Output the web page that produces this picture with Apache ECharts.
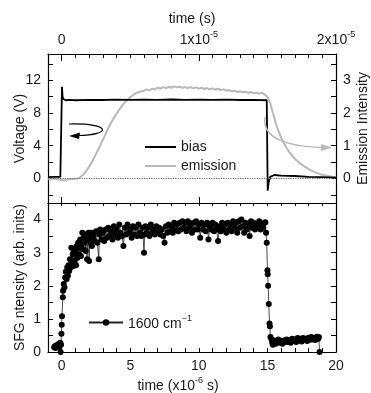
<!DOCTYPE html>
<html>
<head>
<meta charset="utf-8">
<script src="https://cdn.jsdelivr.net/npm/echarts@6/dist/echarts.min.js"></script>
<style>
  html, body { margin: 0; padding: 0; background: #fff; }
  #chart { width: 371px; height: 393px; }
</style>
</head>
<body>
<div id="chart"></div>
<script>
// ---- data (time in microseconds) ----
const biasData = [
  [-1, 0.15], [-0.5, 0.2], [-0.1, 0.2], [0, 0.2], [0.02, 11.2], [0.06, 10.0], [0.12, 9.7],
  [0.3, 9.55], [0.6, 9.6], [1, 9.55], [2, 9.6], [3, 9.58], [4, 9.62], [5, 9.6], [6, 9.63],
  [7, 9.6], [8, 9.64], [9, 9.6], [10, 9.62], [11, 9.6], [12, 9.62], [13, 9.58], [14, 9.6],
  [14.95, 9.55], [15.0, 9.5], [15.02, -1.5], [15.08, -0.6], [15.2, 0.2], [15.5, 0.42],
  [16, 0.35], [17, 0.3], [18, 0.2], [19, 0.15], [20, 0.1]
];
const emissionData = [
  [-1, -0.02], [-0.5, 0.0], [-0.2, -0.03], [0, -0.04], [0.2, -0.06], [0.4, -0.03], [0.7, -0.02],
  [1.0, -0.01], [1.2, 0.0], [1.4, 0.05], [1.6, 0.13], [1.8, 0.24], [2.0, 0.36], [2.2, 0.5],
  [2.4, 0.66], [2.6, 0.83], [2.8, 1.0], [3.0, 1.18], [3.2, 1.36], [3.4, 1.54], [3.6, 1.7],
  [3.8, 1.85], [4.0, 1.98], [4.2, 2.1], [4.4, 2.22], [4.6, 2.32], [4.8, 2.4], [5.0, 2.48],
  [5.2, 2.55], [5.4, 2.6], [5.6, 2.63], [5.8, 2.66], [6.0, 2.68], [6.2, 2.72], [6.4, 2.69],
  [6.6, 2.74], [6.8, 2.72], [7.0, 2.77], [7.2, 2.74], [7.4, 2.79], [7.6, 2.76], [7.8, 2.8],
  [8.0, 2.77], [8.2, 2.81], [8.4, 2.78], [8.6, 2.8], [8.8, 2.77], [9.0, 2.79], [9.2, 2.76],
  [9.4, 2.79], [9.6, 2.75], [9.8, 2.78], [10.0, 2.74], [10.2, 2.77], [10.4, 2.73], [10.6, 2.76],
  [10.8, 2.72], [11.0, 2.75], [11.2, 2.71], [11.4, 2.74], [11.6, 2.7], [11.8, 2.72], [12.0, 2.68],
  [12.2, 2.7], [12.4, 2.66], [12.6, 2.68], [12.8, 2.64], [13.0, 2.66], [13.2, 2.63], [13.4, 2.65],
  [13.6, 2.61], [13.8, 2.64], [14.0, 2.6], [14.2, 2.62], [14.4, 2.58], [14.6, 2.62], [14.8, 2.56],
  [15.0, 2.5], [15.1, 2.4], [15.2, 2.3], [15.4, 2.0], [15.6, 1.7], [15.8, 1.45], [16.0, 1.25],
  [16.3, 1.0], [16.6, 0.8], [17.0, 0.6], [17.4, 0.45], [17.8, 0.34], [18.2, 0.24], [18.6, 0.17],
  [19.0, 0.11], [19.5, 0.07], [20, 0.04]
];
const sfgData = [
  [-0.55,0.14],[-0.5,0.17],[-0.45,0.12],[-0.4,0.2],[-0.35,0.16],[-0.3,0.22],[-0.25,0.15],[-0.2,0.25],
  [-0.15,0.18],[-0.1,0.28],[-0.08,0.0],[-0.05,0.22],[-0.02,0.55],[0.0,0.82],[0.02,1.08],[0.08,1.65],
  [0.1,1.85],[0.15,2.05],[0.2,1.95],[0.25,2.25],[0.3,2.42],[0.35,2.2],[0.4,2.55],[0.45,2.3],
  [0.5,2.62],[0.55,2.45],[0.6,2.8],[0.65,2.55],[0.7,3.15],[0.75,2.7],[0.8,2.95],[0.85,2.6],
  [0.9,3.1],[0.95,2.75],[1.0,3.05],[1.05,2.62],[1.1,3.2],[1.15,2.85],[1.2,3.3],[1.25,2.95],
  [1.3,3.15],[1.35,3.4],[1.4,2.9],[1.45,3.25],[1.5,3.6],[1.55,3.1],[1.6,3.45],[1.65,3.3],
  [1.7,3.55],[1.75,3.05],[1.8,3.5],[1.85,2.8],[1.9,3.4],[1.95,3.6],[2.0,2.75],[2.05,3.45],
  [2.1,3.3],[2.15,3.6],[2.2,3.2],[2.3,3.5],[2.4,3.35],[2.5,3.65],[2.6,3.3],[2.7,2.8],
  [2.75,3.55],[2.8,3.7],[2.9,3.4],[3.0,3.6],[3.1,3.35],[3.2,3.7],[3.3,3.45],[3.4,3.75],
  [3.5,3.5],[3.6,3.65],[3.7,3.4],[3.8,3.8],[3.9,3.55],[4.0,3.7],[4.1,3.45],[4.2,3.85],
  [4.3,3.6],[4.4,3.5],[4.5,3.2],[4.6,3.75],[4.7,3.55],[4.8,3.85],[4.9,3.6],[5.0,3.7],
  [5.1,3.45],[5.2,3.8],[5.3,3.55],[5.4,3.75],[5.5,3.5],[5.6,3.85],[5.7,3.6],[5.8,3.5],
  [5.9,3.75],[6.0,3.0],[6.05,3.55],[6.1,3.8],[6.2,3.6],[6.3,3.75],[6.4,3.5],[6.5,3.85],
  [6.6,3.6],[6.7,3.7],[6.8,3.55],[6.9,3.8],[7.0,3.6],[7.1,3.75],[7.2,3.55],[7.3,3.7],
  [7.4,3.5],[7.5,3.3],[7.6,3.8],[7.7,3.6],[7.8,3.85],[7.9,3.65],[8.0,3.8],[8.1,3.6],
  [8.2,3.9],[8.3,3.7],[8.4,3.85],[8.5,3.65],[8.6,3.9],[8.7,3.7],[8.8,3.95],[8.9,3.75],
  [9.0,3.9],[9.1,3.65],[9.2,3.95],[9.3,3.75],[9.4,3.85],[9.5,3.6],[9.6,3.9],[9.7,3.7],
  [9.8,3.95],[9.9,3.7],[10.0,3.85],[10.1,3.45],[10.2,3.9],[10.3,3.7],[10.4,3.85],[10.5,3.65],
  [10.6,3.9],[10.7,3.4],[10.8,3.8],[10.9,3.7],[11.0,3.9],[11.1,3.65],[11.2,3.85],[11.3,3.7],
  [11.4,3.35],[11.5,3.8],[11.6,3.65],[11.7,3.9],[11.8,3.7],[11.9,3.85],[12.0,3.6],[12.1,3.9],
  [12.2,3.7],[12.3,3.85],[12.4,3.65],[12.5,3.95],[12.6,3.75],[12.7,3.9],[12.8,3.6],[12.9,3.95],
  [13.0,3.75],[13.1,4.0],[13.2,3.8],[13.3,3.6],[13.4,3.9],[13.5,3.7],[13.6,3.85],[13.7,3.5],
  [13.8,3.95],[13.9,3.75],[14.0,3.9],[14.1,3.7],[14.2,3.85],[14.3,3.75],[14.4,3.95],[14.5,3.7],
  [14.6,3.85],[14.7,3.75],[14.8,3.9],[14.85,3.92],[14.9,3.6],[14.95,3.3],[15.0,2.47],[15.02,2.35],
  [15.05,2.0],[15.1,1.45],[15.15,0.86],[15.18,0.78],[15.22,0.45],[15.3,0.38],[15.35,0.28],[15.4,0.22],
  [15.5,0.35],[15.6,0.25],[15.7,0.3],[15.8,0.38],[15.9,0.28],[16.0,0.33],[16.1,0.25],[16.2,0.35],
  [16.3,0.3],[16.4,0.38],[16.5,0.3],[16.6,0.35],[16.7,0.28],[16.8,0.4],[16.9,0.33],[17.0,0.38],
  [17.1,0.3],[17.2,0.42],[17.3,0.35],[17.4,0.4],[17.5,0.32],[17.6,0.42],[17.7,0.36],[17.8,0.4],
  [17.9,0.33],[18.0,0.43],[18.1,0.37],[18.2,0.45],[18.3,0.38],[18.4,0.42],[18.5,0.36],[18.6,0.46],
  [18.7,0.4],[18.75,0.45],[18.8,0.0]
];
const topTickLabels = { 0: '{b|0}', 10: '{b|1x10}{sup|-5}', 20: '{b|2x10}{sup|-5}' };
const bottomTickLabels = [0, 5, 10, 15, 20];
const voltageLabels = [0, 4, 8, 12];
const emissionLabels = [0, 1, 2, 3];
const sfgLabels = [0, 1, 2, 3, 4];

// ---- styling ----
const TXT = '#1a1a1a';
const FONT = '"Liberation Sans", Arial, sans-serif';
const RICH = {
  b: { fontSize: 14, fontFamily: FONT, color: TXT, lineHeight: 17, verticalAlign: 'bottom' },
  sup: { fontSize: 9, fontFamily: FONT, color: TXT, lineHeight: 10, verticalAlign: 'top' }
};
const axisLine = { show: true, onZero: false, lineStyle: { color: '#000', width: 1.2 } };
function ticks(len) { return { show: true, inside: true, length: len, lineStyle: { color: '#000', width: 1 } }; }
const noLabel = { show: false };
function lbl(fmt) { return { show: true, color: TXT, fontSize: 14, fontFamily: FONT, margin: 7, formatter: fmt, rich: RICH, showMinLabel: true, showMaxLabel: true }; }
const nameStyle = { color: TXT, fontSize: 14, fontFamily: FONT, rich: RICH };
const isIn = (arr, v) => arr.some(a => Math.abs(a - v) < 1e-9);

const chart = echarts.init(document.getElementById('chart'), null, { renderer: 'canvas' });
chart.setOption({
  animation: false,
  backgroundColor: '#fff',
  grid: [
    { left: 48, right: 35, top: 54, height: 149, containLabel: false, outerBoundsMode: 'none' },
    { left: 48, right: 35, top: 203, height: 149, containLabel: false, outerBoundsMode: 'none' }
  ],
  xAxis: [
    { // 0: top panel bottom (data axis)
      gridIndex: 0, type: 'value', position: 'bottom', min: -1, max: 20, minInterval: 10, maxInterval: 10,
      axisLine: axisLine, axisTick: ticks(6), axisLabel: noLabel, splitLine: { show: false }
    },
    { // 1: top panel top, minor ticks + labels
      gridIndex: 0, type: 'value', position: 'top', min: -1, max: 20, interval: 1,
      axisLine: axisLine, axisTick: ticks(4), splitLine: { show: false },
      axisLabel: lbl(v => (topTickLabels[Math.round(v)] !== undefined && Math.abs(v - Math.round(v)) < 1e-9) ? topTickLabels[Math.round(v)] : ''),
      name: 'time (s)', nameLocation: 'middle', nameGap: 28, nameMoveOverlap: false, nameTextStyle: nameStyle
    },
    { // 2: top panel top, major ticks
      gridIndex: 0, type: 'value', position: 'top', min: -1, max: 20, minInterval: 10, maxInterval: 10,
      axisLine: { show: false, onZero: false }, axisTick: ticks(7), axisLabel: noLabel, splitLine: { show: false }
    },
    { // 3: bottom panel bottom
      gridIndex: 1, type: 'value', position: 'bottom', min: -1, max: 20, interval: 1,
      axisLine: axisLine, axisTick: ticks(4), splitLine: { show: false },
      axisLabel: lbl(v => isIn(bottomTickLabels, v) ? String(Math.round(v)) : ''),
      name: '{b|time (x10}{sup|-6}{b| s)}', nameLocation: 'middle', nameGap: 24, nameMoveOverlap: false,
      nameTextStyle: Object.assign({}, nameStyle, { padding: [0, 28, 0, 0] })
    },
    { // 4: bottom panel top
      gridIndex: 1, type: 'value', position: 'top', min: -1, max: 20, interval: 1,
      axisLine: axisLine, axisTick: ticks(3), axisLabel: noLabel, splitLine: { show: false }
    }
  ],
  yAxis: [
    { // 0: voltage
      gridIndex: 0, type: 'value', position: 'left', min: -3, max: 15.2, minInterval: 2, maxInterval: 2,
      axisLine: axisLine, axisTick: ticks(5), splitLine: { show: false },
      axisLabel: lbl(v => isIn(voltageLabels, v) ? String(Math.round(v)) : ''),
      name: 'Voltage (V)', nameLocation: 'middle', nameGap: 21, nameRotate: 90, nameMoveOverlap: false, nameTextStyle: nameStyle
    },
    { // 1: emission
      gridIndex: 0, type: 'value', position: 'right', min: -0.75, max: 3.8, minInterval: 0.5, maxInterval: 0.5,
      axisLine: axisLine, axisTick: ticks(5), splitLine: { show: false },
      axisLabel: lbl(v => isIn(emissionLabels, v) ? String(Math.round(v)) : ''),
      name: 'Emission Intensity', nameLocation: 'middle', nameGap: 20, nameRotate: 90, nameMoveOverlap: false, nameTextStyle: nameStyle
    },
    { // 2: SFG
      gridIndex: 1, type: 'value', position: 'left', min: 0, max: 4.5, interval: 0.5,
      axisLine: axisLine, axisTick: ticks(5), splitLine: { show: false },
      axisLabel: lbl(v => isIn(sfgLabels, v) ? String(Math.round(v)) : ''),
      name: 'SFG ntensity (arb. inits)', nameLocation: 'middle', nameGap: 21, nameRotate: 90, nameMoveOverlap: false, nameTextStyle: nameStyle
    },
    { // 3: SFG right frame
      gridIndex: 1, type: 'value', position: 'right', min: 0, max: 4.5, interval: 0.5,
      axisLine: axisLine, axisTick: ticks(5), axisLabel: noLabel, splitLine: { show: false }
    }
  ],
  legend: [
    {
      data: [{ name: 'bias', icon: 'rect' }, { name: 'emission', icon: 'rect' }],
      orient: 'vertical', left: 145, top: 140, padding: 0,
      itemWidth: 31, itemHeight: 2, itemGap: 5,
      textStyle: { color: TXT, fontSize: 14, fontFamily: FONT }
    },
    {
      data: ['1600 cm-1'], orient: 'vertical', left: 88, top: 314, padding: 0,
      itemWidth: 34, itemHeight: 8,
      formatter: () => '{b|1600 cm}{sup|−1}',
      textStyle: { color: TXT, fontSize: 14, fontFamily: FONT, rich: RICH }
    }
  ],
  series: [
    {
      name: 'emission', type: 'line', xAxisIndex: 0, yAxisIndex: 1, data: emissionData,
      symbol: 'none', showSymbol: false, z: 2,
      itemStyle: { color: '#b9b9b9' }, lineStyle: { color: '#b9b9b9', width: 2 }
    },
    {
      name: 'bias', type: 'line', xAxisIndex: 0, yAxisIndex: 0, data: biasData,
      symbol: 'none', showSymbol: false, z: 3,
      itemStyle: { color: '#000' }, lineStyle: { color: '#000', width: 1.8 },
      markLine: {
        silent: true, symbol: ['none', 'none'], label: { show: false },
        lineStyle: { type: 'dotted', color: '#666', width: 1.2 },
        data: [{ yAxis: 0 }]
      }
    },
    {
      name: '1600 cm-1', type: 'line', xAxisIndex: 3, yAxisIndex: 2, data: sfgData,
      symbol: 'circle', symbolSize: 6, showSymbol: true, z: 3,
      itemStyle: { color: '#000' }, lineStyle: { color: '#222', width: 0.8 }
    }
  ],
  graphic: [
    { type: 'bezierCurve', silent: true, z: 10,
      shape: { x1: 69, y1: 124, cpx1: 112, cpy1: 123, cpx2: 112, cpy2: 135, x2: 78, y2: 135.5 },
      style: { stroke: '#000', lineWidth: 1.2, fill: null } },
    { type: 'polygon', silent: true, z: 10,
      shape: { points: [[69, 136], [80, 132.5], [79, 139]] }, style: { fill: '#000' } },
    { type: 'bezierCurve', silent: true, z: 10,
      shape: { x1: 265, y1: 117, cpx1: 262, cpy1: 138, cpx2: 285, cpy2: 146, x2: 322, y2: 147.5 },
      style: { stroke: '#b9b9b9', lineWidth: 1.5, fill: null } },
    { type: 'polygon', silent: true, z: 10,
      shape: { points: [[332, 147.5], [321, 144], [321, 151]] }, style: { fill: '#b9b9b9' } }
  ]
});
</script>
</body>
</html>
